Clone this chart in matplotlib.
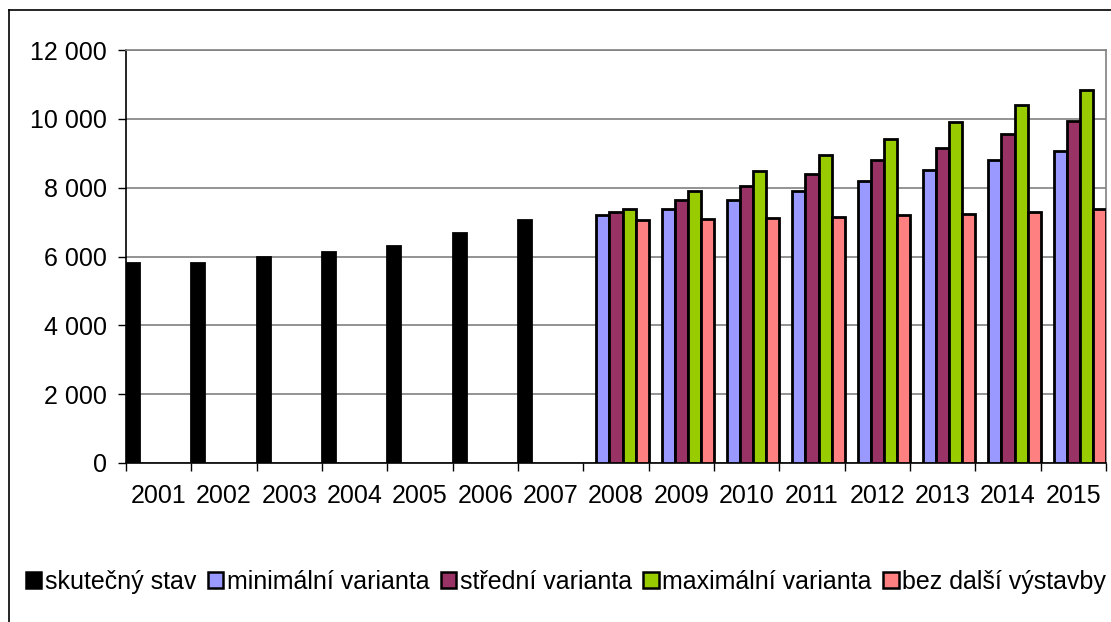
import matplotlib
matplotlib.use("Agg")
import matplotlib.pyplot as plt
from matplotlib.lines import Line2D
from matplotlib.patches import Patch
import numpy as np

years = ["2001", "2002", "2003", "2004", "2005", "2006", "2007", "2008",
         "2009", "2010", "2011", "2012", "2013", "2014", "2015"]
series_names = ["skutečný stav", "minimální varianta", "střední varianta",
                "maximální varianta", "bez další výstavby"]
skutecny = [5800, 5820, 5980, 6130, 6300, 6680, 7060,
            None, None, None, None, None, None, None, None]
minimalni = [None]*7 + [7200, 7390, 7640, 7910, 8190, 8500, 8800, 9070]
stredni = [None]*7 + [7300, 7650, 8060, 8400, 8800, 9150, 9550, 9950]
maximalni = [None]*7 + [7390, 7900, 8480, 8960, 9400, 9910, 10400, 10830]
bez_vystavby = [None]*7 + [7070, 7100, 7130, 7150, 7200, 7245, 7300, 7380]
y_ticks = [0, 2000, 4000, 6000, 8000, 10000, 12000]

colors = ["#000000", "#9999FF", "#993366", "#99CC00", "#FF8080"]
all_series = [skutecny, minimalni, stredni, maximalni, bez_vystavby]

plt.rcParams['font.family'] = ['Liberation Sans', 'DejaVu Sans']
FS = 18

fig = plt.figure(figsize=(11.11, 6.22), dpi=100)
ax = fig.add_axes([126/1111, 1-463/622, (1106-126)/1111, (463-50)/622])

x = np.arange(len(years))
w = 0.2
for j, (vals, col) in enumerate(zip(all_series, colors)):
    xs = [xi - 0.5 + j*w for xi, v in zip(x, vals) if v is not None]
    vs = [v for v in vals if v is not None]
    ax.bar(xs, vs, width=w, align='edge', color=col, edgecolor='black',
           linewidth=2.0, zorder=3)

ax.set_xlim(-0.5, len(years)-0.5)
ax.set_ylim(0, 12000)
ax.set_yticks(y_ticks)
ax.set_yticklabels([f"{t:,}".replace(",", " ") for t in y_ticks], fontsize=FS)
ax.yaxis.grid(True, color='#808080', linewidth=1.2, zorder=0)
ax.set_axisbelow(True)

ax.set_xticks(x)
ax.set_xticklabels(years, fontsize=FS)
ax.set_xticks(np.arange(-0.5, len(years)), minor=True)
ax.tick_params(axis='x', which='major', length=0, pad=15)
ax.tick_params(axis='x', which='minor', length=5.5, width=1, color='black', direction='out')
ax.tick_params(axis='y', length=5.5, width=1, color='black', direction='out', pad=8)

for s in ['left', 'bottom']:
    ax.spines[s].set_color('black')
    ax.spines[s].set_linewidth(1.2)
for s in ['top', 'right']:
    ax.spines[s].set_color('#808080')
    ax.spines[s].set_linewidth(1.2)

handles = [Patch(facecolor=c, edgecolor='black', linewidth=1.8) for c in colors]
fig.legend(handles, series_names, loc='center', bbox_to_anchor=(566/1111, 1-582/622),
           ncol=5, frameon=False, fontsize=FS, handlelength=0.62, handleheight=0.62,
           handletextpad=0.15, columnspacing=0.45, borderpad=0)

# outer chart border (extends past the right and bottom edges)
fig.add_artist(Line2D([9/1111, 1.0], [1-10/622, 1-10/622], transform=fig.transFigure,
                      color='black', linewidth=1.2))
fig.add_artist(Line2D([9/1111, 9/1111], [0.0, 1-10/622], transform=fig.transFigure,
                      color='black', linewidth=1.2))

fig.savefig("out.png", dpi=100)
